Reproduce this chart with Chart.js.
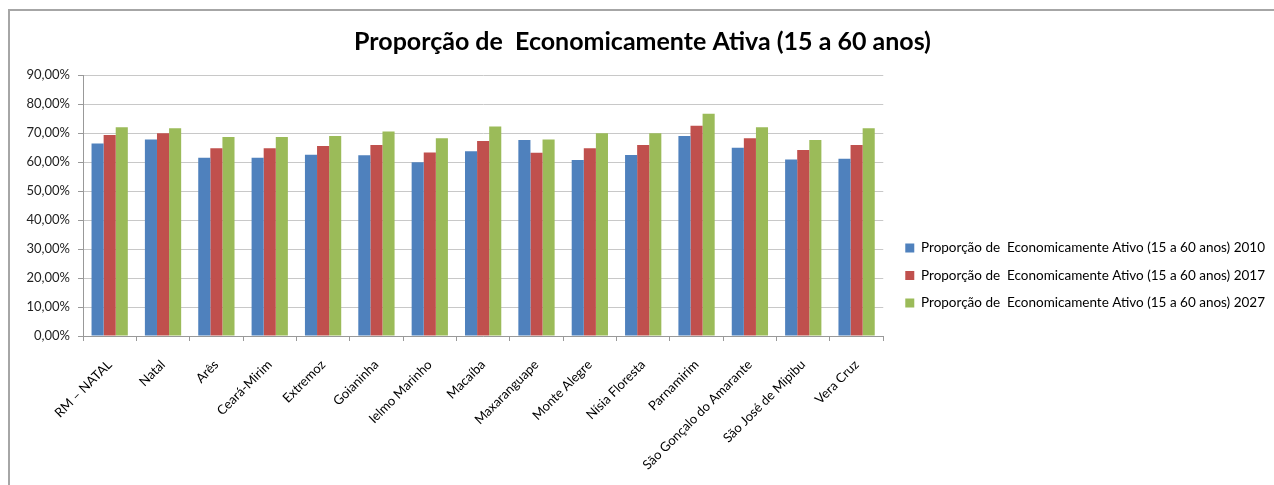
<!DOCTYPE html>
<html>
<head>
<meta charset="utf-8">
<script src="https://cdn.jsdelivr.net/npm/chart.js@4"></script>
<style>
  body { margin: 0; background: #fff; }
  #wrap { position: relative; width: 1274px; height: 485px; }
  #frame { position: absolute; left: 8px; top: 9px; right: -4px; bottom: -4px;
           border-left: 2px solid #a6a6a6; border-top: 2px solid #a6a6a6; pointer-events: none; }
</style>
</head>
<body>
<div id="wrap">
  <canvas id="myChart" width="1274" height="485"></canvas>
  <div id="frame"></div>
</div>
<script>
const categories = [
  "RM – NATAL", "Natal", "Arês", "Ceará-Mirim", "Extremoz", "Goianinha",
  "Ielmo Marinho", "Macaíba", "Maxaranguape", "Monte Alegre", "Nísia Floresta",
  "Parnamirim", "São Gonçalo do Amarante", "São José de Mipibu", "Vera Cruz"
];
const values2010 = [66.4, 67.8, 61.5, 61.5, 62.5, 62.3, 59.9, 63.7, 67.6, 60.7, 62.4, 69.0, 64.9, 60.9, 61.1];
const values2017 = [69.3, 69.9, 64.7, 64.7, 65.5, 65.9, 63.3, 67.2, 63.2, 64.7, 65.9, 72.5, 68.2, 64.1, 65.9];
const values2027 = [72.0, 71.6, 68.6, 68.6, 69.0, 70.5, 68.2, 72.2, 67.8, 69.9, 69.9, 76.6, 72.0, 67.6, 71.6];
const seriesLabels = [
  "Proporção de  Economicamente Ativo (15 a 60 anos) 2010",
  "Proporção de  Economicamente Ativo (15 a 60 anos) 2017",
  "Proporção de  Economicamente Ativo (15 a 60 anos) 2027"
];
const colors = ["#4F81BD", "#C0504D", "#9BBB59"];
const chartTitle = "Proporção de  Economicamente Ativa (15 a 60 anos)";

const font = "Lato, 'Open Sans', sans-serif";

// excel puts the legend lower than the middle of the plot, title a bit right
const nudge = {
  id: "nudge",
  afterLayout: (chart) => {
    const lg = chart.legend;
    lg.top += 33;
    lg.bottom += 33;
    lg.left += 8;
    lg.right += 8;
    chart.titleBlock.left += 9;
    chart.titleBlock.right += 9;
  },
};

const ctx = document.getElementById("myChart").getContext("2d");
const myChart = new Chart(ctx, {
  type: "bar",
  data: {
    labels: categories,
    datasets: [values2010, values2017, values2027].map((data, i) => ({
      label: seriesLabels[i],
      data,
      backgroundColor: colors[i],
      borderWidth: 0,
      categoryPercentage: 0.68,
      barPercentage: 1,
    })),
  },
  options: {
    responsive: false,
    animation: false,
    layout: { padding: { left: 0, right: 7, top: 0, bottom: 0 } },
    plugins: {
      title: {
        display: true,
        text: chartTitle,
        color: "#000",
        font: { family: font, size: 25, weight: "bold" },
        padding: { top: 27, bottom: 18 },
      },
      legend: {
        position: "right",
        maxWidth: 500,
        labels: {
          color: "#000",
          font: { family: font, size: 13.5 },
          boxWidth: 9,
          boxHeight: 9,
          padding: 14,
        },
      },
      tooltip: { enabled: false },
    },
    scales: {
      y: {
        min: 0,
        max: 90,
        afterFit: (scale) => { scale.width = 83; },
        ticks: {
          stepSize: 10,
          color: "#222",
          padding: 8,
          font: { family: font, size: 13 },
          callback: (v) => v.toFixed(2).replace(".", ",") + "%",
        },
        grid: { color: "#c8c8c8", tickLength: 5, tickColor: "#999" },
        border: { color: "#999" },
      },
      x: {
        afterFit: (scale) => { scale.height = 149; },
        ticks: {
          color: "#000",
          autoSkip: false,
          maxRotation: 45,
          minRotation: 45,
          padding: 16,
          font: { family: font, size: 13 },
        },
        grid: { offset: true, drawOnChartArea: false, tickLength: 5, color: "#999" },
        border: { color: "#999" },
      },
    },
  },
  plugins: [nudge],
});
</script>
</body>
</html>
